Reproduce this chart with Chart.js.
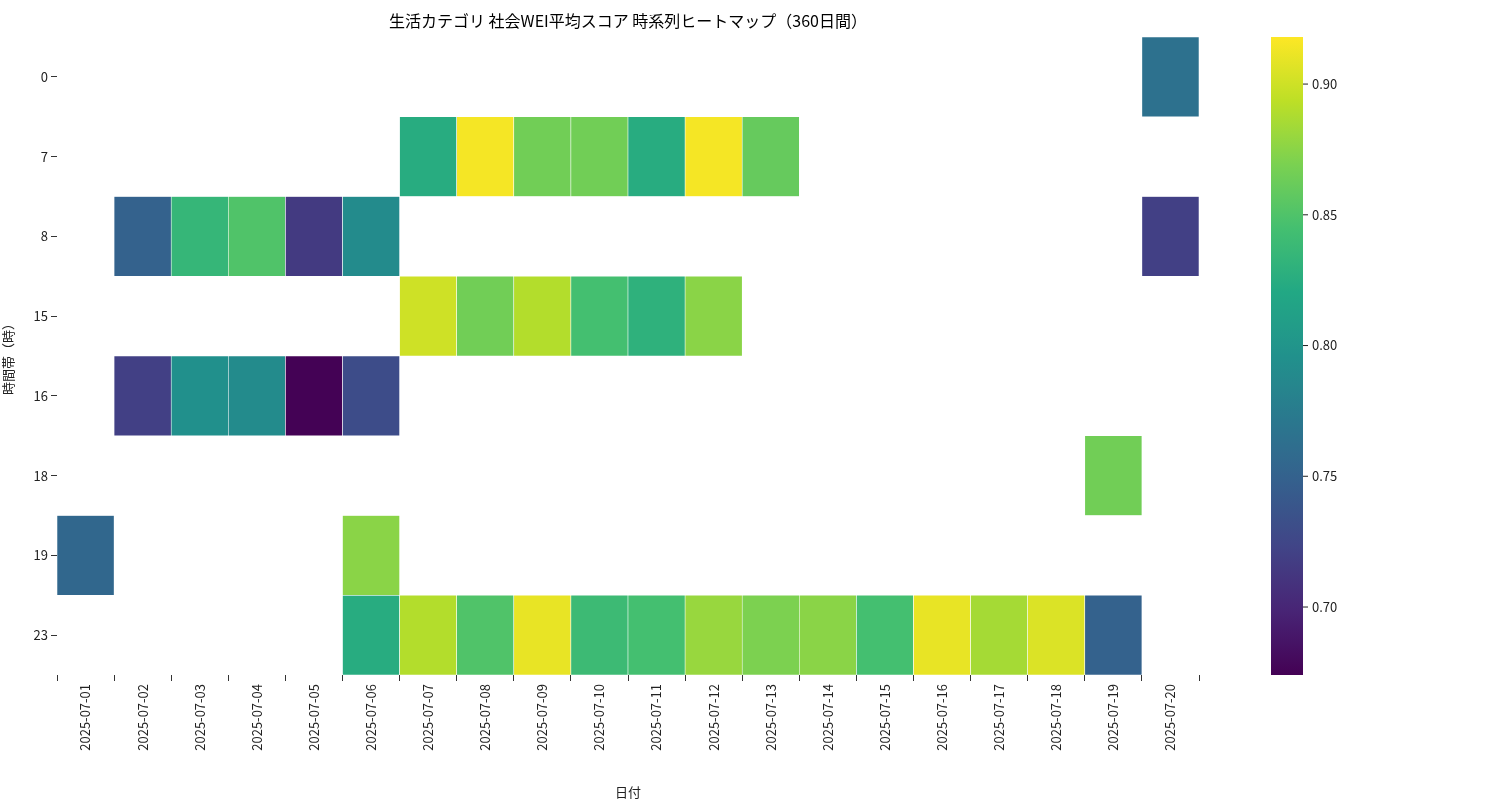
<!DOCTYPE html>
<html><head><meta charset="utf-8">
<script src="https://cdn.jsdelivr.net/npm/chart.js@4/dist/chart.umd.min.js"></script>
<style>body{margin:0;background:#fff}canvas{display:block}</style></head>
<body><div style="width:1500px;height:800px"><canvas id="c"></canvas></div>
<script>
const dates=["2025-07-01","2025-07-02","2025-07-03","2025-07-04","2025-07-05","2025-07-06","2025-07-07","2025-07-08","2025-07-09","2025-07-10","2025-07-11","2025-07-12","2025-07-13","2025-07-14","2025-07-15","2025-07-16","2025-07-17","2025-07-18","2025-07-19","2025-07-20"];
const hours=["0","7","8","15","16","18","19","23"];
const N=null;
const h0 =[N,N,N,N,N,N,N,N,N,N,N,N,N,N,N,N,N,N,N,0.765];
const h7 =[N,N,N,N,N,N,0.825,0.915,0.865,0.865,0.825,0.915,0.86,N,N,N,N,N,N,N];
const h8 =[N,0.75,0.835,0.85,0.715,0.79,N,N,N,N,N,N,N,N,N,N,N,N,N,0.72];
const h15=[N,N,N,N,N,N,0.9,0.865,0.89,0.845,0.83,0.875,N,N,N,N,N,N,N,N];
const h16=[N,0.72,0.795,0.79,0.675,0.73,N,N,N,N,N,N,N,N,N,N,N,N,N,N];
const h18=[N,N,N,N,N,N,N,N,N,N,N,N,N,N,N,N,N,N,0.865,N];
const h19=[0.755,N,N,N,N,0.875,N,N,N,N,N,N,N,N,N,N,N,N,N,N];
const h23=[N,N,N,N,N,0.825,0.89,0.85,0.91,0.84,0.845,0.88,0.87,0.875,0.845,0.91,0.885,0.905,0.75,N];
const rows=[h0,h7,h8,h15,h16,h18,h19,h23];
const cbTicks=[0.70,0.75,0.80,0.85,0.90];
const VMIN=0.674,VMAX=0.918;
const vir=["#440154","#482475","#414487","#355f8d","#2a788e","#21918c","#22a884","#44bf70","#7ad151","#bddf26","#fde725"];
function hx(c){return [1,3,5].map(i=>parseInt(c.substr(i,2),16));}
function viridis(t){t=Math.max(0,Math.min(1,t));const f=t*10,i=Math.min(9,Math.floor(f)),r=f-i;const a=hx(vir[i]),b=hx(vir[i+1]);return `rgb(${a.map((v,k)=>Math.round(v+(b[k]-v)*r)).join(',')})`;}
const col=v=>v==null?'rgba(0,0,0,0)':viridis((v-VMIN)/(VMAX-VMIN));
const FONT="'Noto Sans CJK JP','Noto Sans',sans-serif";
const datasets=rows.map((r,i)=>({label:hours[i],data:r.map(v=>v==null?null:[i,i+1]),backgroundColor:r.map(col),borderColor:'#fff',borderWidth:0.6,borderSkipped:false,barPercentage:1,categoryPercentage:1,grouped:false}));
const extra={id:'extra',afterDraw(ch){const c=ch.ctx,a=ch.chartArea;c.save();
c.fillStyle='#000';c.font="16px "+FONT;c.textAlign='center';c.textBaseline='middle';c.fillText('生活カテゴリ 社会WEI平均スコア 時系列ヒートマップ（360日間）',(a.left+a.right)/2,21);
const x0=1271,w=32,top=37,bot=675;const g=c.createLinearGradient(0,bot,0,top);for(let k=0;k<=20;k++)g.addColorStop(k/20,viridis(k/20));c.fillStyle=g;c.fillRect(x0,top,w,bot-top);
c.font="13px "+FONT;c.textAlign='left';c.fillStyle='#222';c.strokeStyle='#222';
cbTicks.forEach(t=>{const y=bot-(t-VMIN)/(VMAX-VMIN)*(bot-top);c.beginPath();c.moveTo(x0+w,y);c.lineTo(x0+w+5,y);c.stroke();c.fillText(t.toFixed(2),x0+w+9,y);});
c.restore();}};
new Chart(document.getElementById('c'),{type:'bar',data:{labels:dates,datasets},plugins:[extra],
options:{responsive:true,maintainAspectRatio:false,animation:false,layout:{padding:{top:37,right:301,left:0,bottom:0}},
plugins:{legend:{display:false},tooltip:{enabled:false},title:{display:false}},
scales:{x:{stacked:false,grid:{display:true,drawOnChartArea:false,tickLength:6,color:'#333'},border:{display:false},ticks:{minRotation:90,maxRotation:90,color:'#222',font:{size:13,family:FONT}},title:{display:true,text:'日付',color:'#222',font:{size:13,family:FONT},padding:0},afterFit(s){s.height=125;}},
y:{type:'linear',reverse:true,min:0,max:8,grid:{drawOnChartArea:false,tickLength:6,color:'#333'},border:{display:false},
afterBuildTicks(s){s.ticks=hours.map((h,i)=>({value:i+0.5}));},
ticks:{color:'#222',font:{size:13,family:FONT},callback:(v)=>hours[Math.floor(v)]},
title:{display:true,text:'時間帯（時）',color:'#222',font:{size:13,family:FONT},padding:0},afterFit(s){s.width=57;}}}}});
</script></body></html>
